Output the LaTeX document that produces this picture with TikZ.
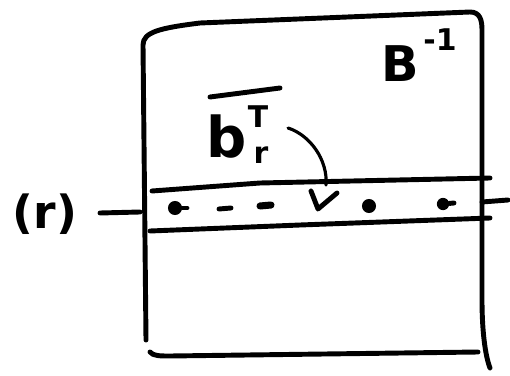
\documentclass[tikz,border=0pt]{standalone}
\usepackage{fontspec}
\setmainfont{DejaVu Sans}
\begin{document}
\begin{tikzpicture}[x=0.02cm,y=-0.02cm,
  ink/.style={line width=2.8pt,line cap=round,line join=round,black},
  thin ink/.style={line width=1.8pt,line cap=round,line join=round,black},
  dotmark/.style={circle,fill=black,inner sep=0pt,minimum size=8pt},
  lab/.style={font=\fontsize{26}{28}\selectfont\bfseries,inner sep=0pt},
  small lab/.style={font=\fontsize{17}{18}\selectfont\bfseries,inner sep=0pt}]
\useasboundingbox (0,0) rectangle (510,375);
% frame of the matrix
\draw[ink] (146,340) -- (143,45) .. controls (143,32) and (160,28) .. (200,23) -- (470,12) .. controls (480,12) and (482,20) .. (482,30) -- (482,300) .. controls (482,330) and (485,355) .. (490,368);
\draw[ink] (150,352) .. controls (153,356) and (160,356) .. (170,356) -- (478,352);
% band for row r
\draw[ink] (152,191) -- (260,183) -- (490,178);
\draw[ink] (150,231) -- (300,225) -- (490,218);
% row label
\node[lab] (r) at (45,214) {(r)};
\coordinate (rl) at (100,213);
\coordinate (rr) at (140,212);
\draw[ink] (rl) -- (rr);
\coordinate (ql) at (482,202);
\coordinate (qr) at (508,200);
\draw[ink] (ql) -- (qr);
% matrix label
\node[lab,font=\fontsize{28}{30}\selectfont\bfseries] (B) at (400,64) {B};
\node[small lab] (Bexp) at (440,40) {-1};
% row vector label
\node[lab,font=\fontsize{32}{34}\selectfont\bfseries] (b) at (227,137) {b};
\node[small lab] (bT) at (258,117) {T};
\node[small lab] (br) at (261,155) {r};
\coordinate (o1) at (210,97);
\coordinate (o2) at (280,88);
\draw[ink] (o1) -- (o2);
% entries of row r
\node[dotmark] (d1) at (175,208) {};
\draw[ink] (d1) -- (187,208);
\coordinate (d2a) at (219,209);
\coordinate (d2b) at (231,208);
\draw[ink] (d2a) -- (d2b);
\coordinate (d3a) at (260,206);
\coordinate (d3b) at (271,205);
\draw[ink,line width=4pt] (d3a) -- (d3b);
\node[dotmark] (d4) at (369,206) {};
\node[dotmark,minimum size=7pt] (d5) at (443,204) {};
\draw[ink] (d5) -- (454,203);
% arrow from b_r^T into the row
\coordinate (a0) at (288,128);
\coordinate (a1) at (326,185);
\draw[thin ink] (a0) .. controls (310,135) and (328,160) .. (a1);
\coordinate (t1) at (311,191);
\coordinate (t2) at (318,209);
\coordinate (t3) at (337,193);
\draw[ink] (t1) -- (t2) -- (t3);
\end{tikzpicture}
\end{document}
